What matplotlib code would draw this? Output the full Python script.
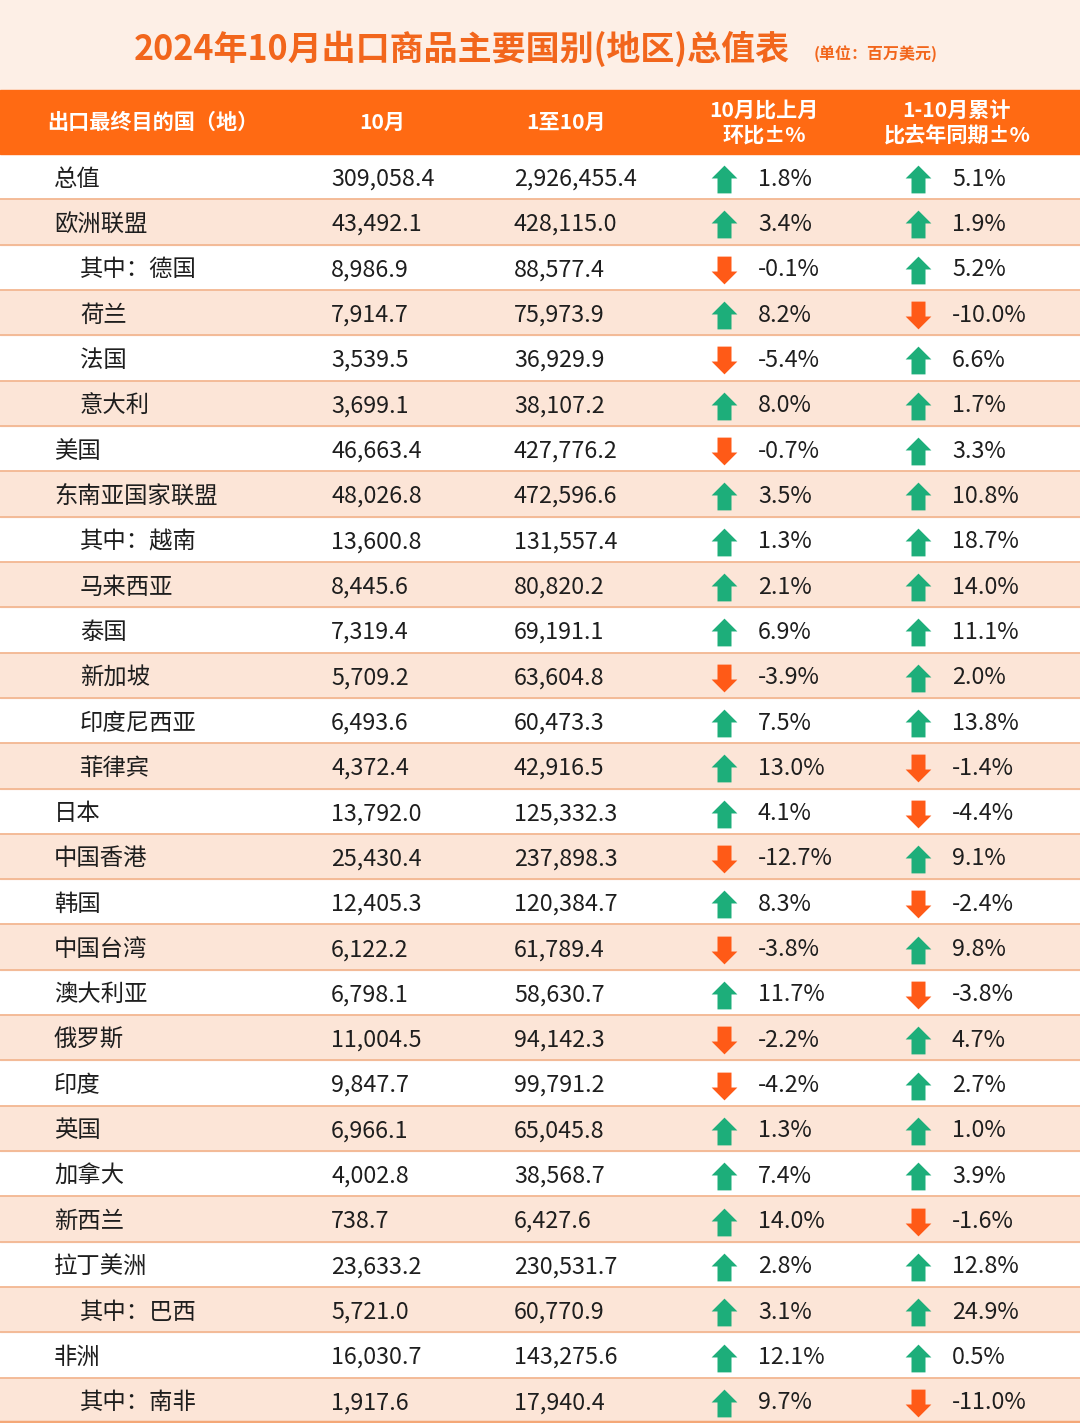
import matplotlib.pyplot as plt
from matplotlib.path import Path
from matplotlib.patches import Rectangle

plt.rcParams['font.family'] = ['Noto Sans CJK SC', 'DejaVu Sans']

# table data
names = ['总值', '欧洲联盟', '其中：德国', '荷兰', '法国', '意大利', '美国',
         '东南亚国家联盟', '其中：越南', '马来西亚', '泰国', '新加坡', '印度尼西亚',
         '菲律宾', '日本', '中国香港', '韩国', '中国台湾', '澳大利亚', '俄罗斯',
         '印度', '英国', '加拿大', '新西兰', '拉丁美洲', '其中：巴西', '非洲',
         '其中：南非']
indent = [0, 0, 1, 1, 1, 1, 0, 0, 1, 1, 1, 1, 1, 1, 0, 0, 0, 0, 0, 0,
          0, 0, 0, 0, 0, 1, 0, 1]
oct_vals = [309058.4, 43492.1, 8986.9, 7914.7, 3539.5, 3699.1, 46663.4,
            48026.8, 13600.8, 8445.6, 7319.4, 5709.2, 6493.6, 4372.4,
            13792.0, 25430.4, 12405.3, 6122.2, 6798.1, 11004.5, 9847.7,
            6966.1, 4002.8, 738.7, 23633.2, 5721.0, 16030.7, 1917.6]
ytd_vals = [2926455.4, 428115.0, 88577.4, 75973.9, 36929.9, 38107.2, 427776.2,
            472596.6, 131557.4, 80820.2, 69191.1, 63604.8, 60473.3, 42916.5,
            125332.3, 237898.3, 120384.7, 61789.4, 58630.7, 94142.3, 99791.2,
            65045.8, 38568.7, 6427.6, 230531.7, 60770.9, 143275.6, 17940.4]
mom = [1.8, 3.4, -0.1, 8.2, -5.4, 8.0, -0.7, 3.5, 1.3, 2.1, 6.9, -3.9, 7.5,
       13.0, 4.1, -12.7, 8.3, -3.8, 11.7, -2.2, -4.2, 1.3, 7.4, 14.0, 2.8,
       3.1, 12.1, 9.7]
yoy = [5.1, 1.9, 5.2, -10.0, 6.6, 1.7, 3.3, 10.8, 18.7, 14.0, 11.1, 2.0,
       13.8, -1.4, -4.4, 9.1, -2.4, 9.8, -3.8, 4.7, 2.7, 1.0, 3.9, -1.6,
       12.8, 24.9, 0.5, -11.0]
headers = ['出口最终目的国（地）', '10月', '1至10月', '10月比上月\n环比±%',
           '1-10月累计\n比去年同期±%']

W, H = 1080, 1423
orange = '#FF6A13'
peach = '#FCE5D7'
line_c = '#F3B792'
green = '#1DAE7A'
red = '#FF5A17'
txt = '#1E1E1E'

fig = plt.figure(figsize=(W / 100, H / 100), dpi=100)
ax = fig.add_axes([0, 0, 1, 1])
ax.set_xlim(0, W)
ax.set_ylim(H, 0)
ax.axis('off')

# title area
ax.add_patch(Rectangle((0, 0), W, 90, color='#FDEFE6', zorder=0))
ax.text(462, 49, '2024年10月出口商品主要国别(地区)总值表', fontsize=24.5,
        fontweight='bold', color='#F2661C', ha='center', va='center')
ax.text(814, 54, '(单位：百万美元)', fontsize=11.5, fontweight='bold',
        color='#F2661C', ha='left', va='center')

# header band
top, bot = 90, 154
ax.add_patch(Rectangle((0, top), W, bot - top, color=orange, zorder=1))
hx = [153, 382, 566, 764, 957]
for x, h in zip(hx, headers):
    ax.text(x, (top + bot) / 2 + 0.5, h, fontsize=15.2, fontweight='bold',
            color='white', ha='center', va='center', linespacing=1.2)

# arrow markers (block arrow, slightly concave head)
up = Path([(0, 13.5), (12.5, 1.0), (6.8, 1.0), (6.8, -13.5), (-6.8, -13.5),
           (-6.8, 1.0), (-12.5, 1.0), (0, 13.5)])
down = Path([(x, -y) for x, y in up.vertices])

rh = (H - bot) / len(names)
for i, name in enumerate(names):
    y0 = bot + i * rh
    yc = y0 + rh / 2 + 2.5
    if i % 2 == 1:
        ax.add_patch(Rectangle((0, y0), W, rh, color=peach, zorder=0))
    ax.plot([0, W], [y0 + rh, y0 + rh], color=line_c, lw=1.3, zorder=2)
    ax.text(80 if indent[i] else 54, yc, name, fontsize=16.8, color=txt,
            ha='left', va='center', fontweight='medium')
    ax.text(331, yc, f'{oct_vals[i]:,.1f}', fontsize=16.8, color=txt,
            ha='left', va='center', fontweight='medium')
    ax.text(514, yc, f'{ytd_vals[i]:,.1f}', fontsize=16.8, color=txt,
            ha='left', va='center', fontweight='medium')
    for ax_x, v in ((724, mom[i]), (918, yoy[i])):
        ax.scatter([ax_x], [yc], marker=up if v >= 0 else down, s=20 ** 2,
                   color=green if v >= 0 else red, linewidths=0, zorder=3)
        ax.text(ax_x + 34, yc, f'{v:.1f}%', fontsize=16.8, color=txt,
                ha='left', va='center', fontweight='medium')

ax.plot([0, W], [H - 1.5, H - 1.5], color='#F4A878', lw=2.5, zorder=2)

fig.savefig('out.png', dpi=100)
